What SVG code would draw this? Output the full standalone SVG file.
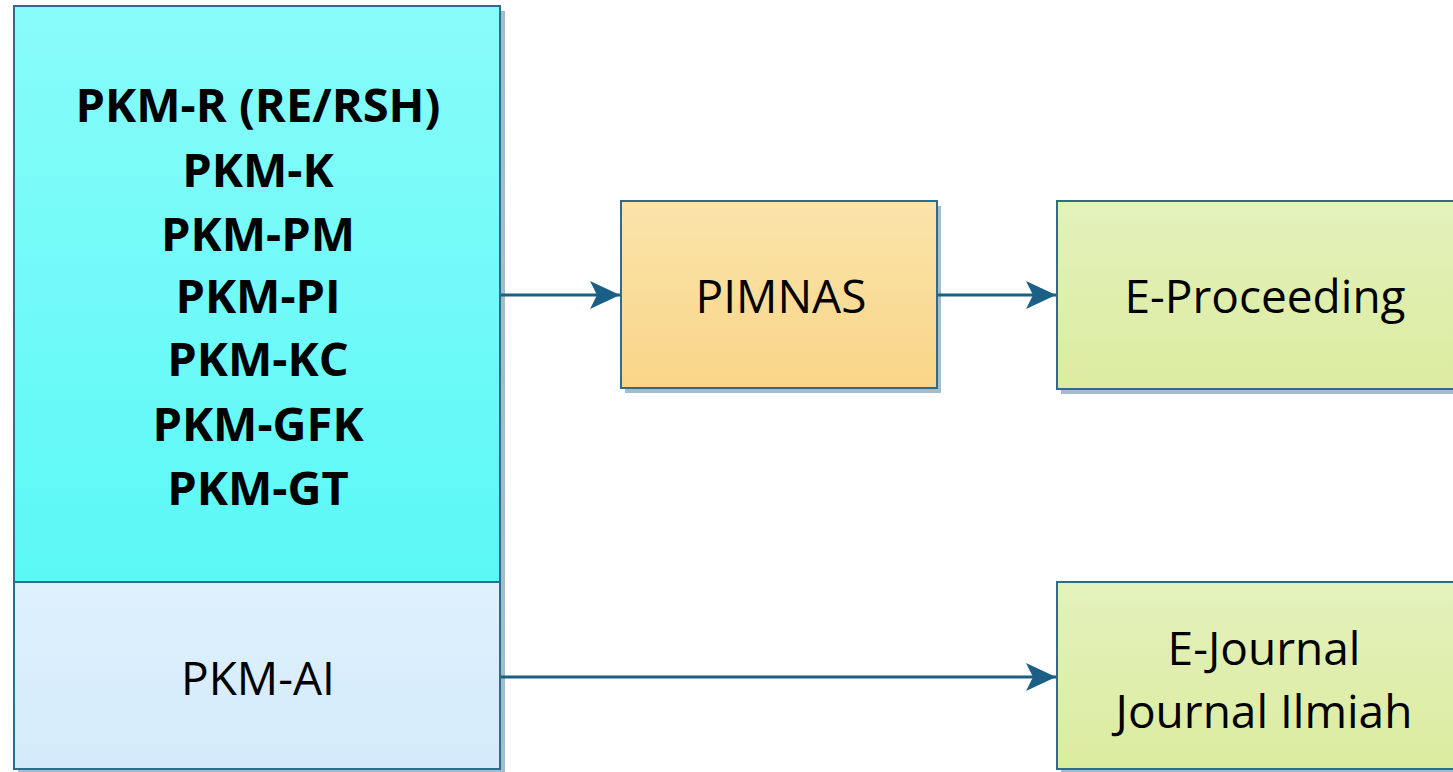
<svg xmlns="http://www.w3.org/2000/svg" width="1453" height="772" viewBox="0 0 1453 772">
<defs>
<linearGradient id="gCyan" x1="0" y1="0" x2="0" y2="1"><stop offset="0" stop-color="#88fcfa"/><stop offset="1" stop-color="#5af8f6"/></linearGradient>
<linearGradient id="gBlue" x1="0" y1="0" x2="0" y2="1"><stop offset="0" stop-color="#def1fd"/><stop offset="1" stop-color="#d4eafa"/></linearGradient>
<linearGradient id="gOrange" x1="0" y1="0" x2="0" y2="1"><stop offset="0" stop-color="#fae4aa"/><stop offset="1" stop-color="#f9d588"/></linearGradient>
<linearGradient id="gGreen" x1="0" y1="0" x2="0" y2="1"><stop offset="0" stop-color="#e3f1bc"/><stop offset="1" stop-color="#dcec9f"/></linearGradient>
<marker id="arr" viewBox="0 0 30 30" refX="30" refY="15" markerWidth="30" markerHeight="30" markerUnits="userSpaceOnUse" orient="auto">
<path d="M0,1 L30,15 L0,29 L7,15 Z" fill="#1b5e86"/>
</marker>
</defs>
<style>
.box{stroke:#2f6b8d;stroke-width:2}
.shadow{fill:#7f9fb5;opacity:0.7}
.b{font-family:"Open Sans","Liberation Sans",sans-serif;font-weight:bold;font-size:47px;fill:#000;text-anchor:middle}
.r{font-family:"Open Sans","Liberation Sans",sans-serif;font-size:46px;fill:#000;text-anchor:middle}
.conn{stroke:#1b5e86;stroke-width:3;fill:none}
</style>
<rect width="1453" height="772" fill="#ffffff"/>
<g id="pkm-main">
<rect class="shadow" x="18" y="11" width="487" height="576"/>
<rect class="box" x="14" y="6" width="486" height="576" fill="url(#gCyan)"/>
<text class="b" x="258" y="122">PKM-R (RE/RSH)</text>
<text class="b" x="258" y="187">PKM-K</text>
<text class="b" x="258" y="251">PKM-PM</text>
<text class="b" x="258" y="313">PKM-PI</text>
<text class="b" x="258" y="376">PKM-KC</text>
<text class="b" x="258" y="441">PKM-GFK</text>
<text class="b" x="258" y="505">PKM-GT</text>
</g>
<g id="pkm-ai">
<rect class="shadow" x="18" y="587" width="487" height="186"/>
<rect class="box" x="14" y="582" width="486" height="187" fill="url(#gBlue)"/>
<text class="r" x="258" y="695">PKM-AI</text>
</g>
<g id="pimnas">
<rect class="shadow" x="625" y="206" width="316" height="187"/>
<rect class="box" x="621" y="201" width="316" height="187" fill="url(#gOrange)"/>
<text class="r" x="781" y="313">PIMNAS</text>
</g>
<g id="e-proceeding">
<rect class="shadow" x="1061" y="206" width="400" height="188"/>
<rect class="box" x="1057" y="201" width="400" height="188" fill="url(#gGreen)"/>
<text class="r" x="1265" y="313">E-Proceeding</text>
</g>
<g id="e-journal">
<rect class="shadow" x="1061" y="587" width="400" height="188"/>
<rect class="box" x="1057" y="582" width="400" height="187" fill="url(#gGreen)"/>
<text class="r" x="1264" y="665">E-Journal</text>
<text class="r" x="1264" y="728">Journal Ilmiah</text>
</g>
<g id="connectors">
<line class="conn" x1="501" y1="295" x2="620" y2="295" marker-end="url(#arr)"/>
<line class="conn" x1="938" y1="295" x2="1056" y2="295" marker-end="url(#arr)"/>
<line class="conn" x1="501" y1="677" x2="1056" y2="677" marker-end="url(#arr)"/>
</g>
</svg>
